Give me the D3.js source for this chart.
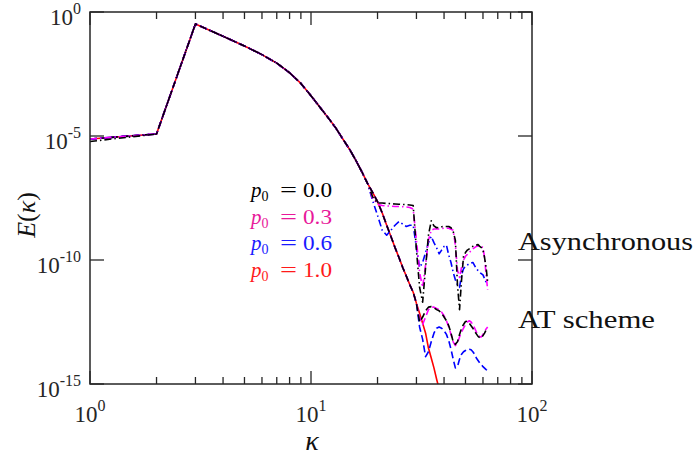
<!DOCTYPE html>
<html>
<head>
<meta charset="utf-8">
<script src="https://cdn.jsdelivr.net/npm/d3@7"></script>
<style>
  html, body { margin: 0; padding: 0; background: #fff; }
  svg { display: block; }
</style>
</head>
<body>
<svg id="chart" width="697" height="460"></svg>
<script>
// ---- data (log10 E at wavenumber kappa) ----
const kBase = [1, 2, 3, 4, 5, 6, 7, 8, 9, 10, 11, 12, 13, 14, 15, 16, 17, 18];
const eBase = [-5.12, -4.92, -0.48, -0.98, -1.37, -1.72, -2.06, -2.45, -2.88, -3.38, -3.85, -4.28, -4.7, -5.15, -5.56, -6.0, -6.45, -6.9];

// p0 = 1.0 (synchronous, same for both schemes)
const kRed = [19, 20, 21, 22, 23, 24, 25, 26, 27, 28, 29, 30, 31, 32, 33, 34, 35, 36, 37, 38];
const eRed = [-7.27, -7.65, -8.1, -8.6, -9.05, -9.5, -9.9, -10.3, -10.65, -11.0, -11.3, -11.75, -12.15, -12.55, -12.95, -13.55, -13.95, -14.35, -14.8, -15.2];

// Asynchronous scheme tails (from kappa = 19)
const kAsyncBlack = [19, 20, 21, 22, 23, 24, 25, 26, 27, 28, 29, 30, 31, 32, 33, 34, 35, 36, 37, 38, 39, 40, 41, 42, 43, 44, 45, 46, 47, 48, 49, 50, 51, 52, 53, 54, 55, 56, 57, 58, 59, 60, 61, 62, 63];
const eAsyncBlack = [-7.45, -7.7, -7.7, -7.72, -7.73, -7.74, -7.75, -7.76, -7.77, -7.78, -7.8, -9.6, -11.1, -11.7, -10.3, -9.0, -8.42, -8.62, -8.7, -8.68, -8.66, -8.65, -8.65, -8.65, -8.7, -8.85, -9.2, -11.0, -12.0, -10.8, -9.85, -9.7, -9.6, -9.55, -9.5, -9.45, -9.42, -9.4, -9.38, -9.45, -9.5, -9.6, -9.9, -10.3, -10.9];

const kAsyncMag = [19, 20, 21, 22, 24, 26, 28, 29, 30, 31, 32, 33, 34, 35, 36, 38, 40, 42, 44, 45, 46, 47, 48, 49, 50, 52, 54, 56, 58, 60, 61, 62, 63];
const eAsyncMag = [-7.5, -7.75, -7.8, -7.82, -7.84, -7.85, -7.88, -7.95, -9.2, -10.5, -11.1, -10.2, -9.2, -8.8, -8.75, -8.75, -8.72, -8.72, -8.8, -9.4, -10.4, -10.7, -10.3, -10.0, -9.85, -9.7, -9.55, -9.45, -9.42, -9.5, -9.9, -10.6, -11.2];

const kAsyncBlue = [19, 20, 21, 22, 23, 24, 25, 26, 27, 28, 29, 30, 31, 32, 33, 34, 35, 36, 37, 38, 39, 40, 41, 42, 43, 44, 45, 46, 47, 48, 49, 50, 52, 54, 56, 58, 60, 62, 63];
const eAsyncBlue = [-7.6, -8.2, -8.8, -9.0, -8.8, -8.6, -8.45, -8.55, -8.65, -8.6, -8.6, -9.5, -10.3, -10.1, -9.7, -9.3, -9.05, -9.3, -9.5, -9.75, -9.6, -9.45, -9.4, -9.8, -10.1, -10.5, -10.8, -11.0, -11.1, -10.6, -10.35, -10.25, -10.15, -10.1, -10.35, -10.5, -10.6, -10.9, -11.0];

// AT scheme tails (follow p0 = 1.0 up to kappa = 30, listed from 31)
const kAT = [31, 32, 33, 34, 35, 36, 37, 38, 39, 40, 41, 42, 43, 44, 45, 46, 47, 48, 49, 50, 51, 52, 53, 54, 55, 56, 57, 58, 59, 60, 61, 62, 63];
const eATBlack = [-12.5, -12.3, -12.05, -11.9, -11.88, -11.92, -12.0, -12.05, -12.15, -12.3, -12.45, -12.65, -12.95, -13.3, -13.4, -13.3, -13.0, -12.75, -12.6, -12.48, -12.47, -12.55, -12.65, -12.75, -12.88, -12.98, -13.08, -13.13, -13.15, -13.05, -12.95, -12.82, -12.75];
const eATMag = [-12.3, -12.6, -12.3, -12.0, -11.9, -11.9, -11.95, -12.0, -12.1, -12.25, -12.45, -12.7, -13.0, -13.3, -13.45, -13.35, -13.1, -12.9, -12.75, -12.6, -12.5, -12.45, -12.5, -12.6, -12.75, -12.9, -13.0, -13.1, -13.1, -13.0, -12.9, -12.78, -12.7];
const eATBlue = [-12.7, -13.2, -13.9, -13.7, -13.3, -12.95, -12.75, -12.7, -12.75, -12.85, -13.0, -13.25, -13.6, -14.0, -14.35, -14.3, -14.0, -13.8, -13.7, -13.65, -13.6, -13.6, -13.62, -13.7, -13.8, -13.95, -14.05, -14.15, -14.22, -14.3, -14.36, -14.42, -14.45];

const legendLabels = ["0.0", "0.3", "0.6", "1.0"];
const legendColors = ["#000000", "#e8189a", "#1a1aff", "#ff1a1a"];
const xTickExps = [0, 1, 2];
const yTickExps = [0, -5, -10, -15];
const schemeLabels = ["Asynchronous", "AT scheme"];

// ---- build series ----
function zip(ks, es) { return ks.map((k, i) => ({ k: k, e: es[i] })); }
const base = zip(kBase, eBase);
const redTail = zip(kRed, eRed);
const redUpTo30 = redTail.filter(d => d.k <= 30);

const series = [
  { pts: base.concat(redTail), color: "#ff0000", dash: null },
  { pts: base.concat(redUpTo30, zip(kAT, eATBlue)), color: "#0000ff", dash: "7,3.5" },
  { pts: base.concat(redUpTo30, zip(kAT, eATMag)), color: "#ff00ff", dash: "7,3.5" },
  { pts: base.concat(redUpTo30, zip(kAT, eATBlack)), color: "#000000", dash: "7,3.5" },
  { pts: base.concat(zip(kAsyncBlue, eAsyncBlue)), color: "#0000ff", dash: "7,3,1.5,3" },
  { pts: base.concat(zip(kAsyncMag, eAsyncMag)), color: "#ff00ff", dash: "7,3,1.5,3" },
  { pts: [{k: 1, e: -5.22}].concat(base.slice(1), zip(kAsyncBlack, eAsyncBlack)), color: "#000000", dash: "7,3,1.5,3" }
];

// ---- layout ----
const svg = d3.select("#chart");
const FONT = "Liberation Serif";
const L = 90, R = 532, T = 12, B = 384;
const x = d3.scaleLog().domain([1, 100]).range([L, R]);
const y = d3.scaleLog().domain([1e-15, 1]).range([B, T]);

svg.append("defs").append("clipPath").attr("id", "clip")
  .append("rect").attr("x", L).attr("y", T).attr("width", R - L).attr("height", B - T);

const line = d3.line().x(d => x(d.k)).y(d => y(Math.pow(10, d.e)));

const g = svg.append("g").attr("clip-path", "url(#clip)");
series.forEach(s => {
  g.append("path").datum(s.pts)
    .attr("d", line)
    .attr("fill", "none")
    .attr("stroke", s.color)
    .attr("stroke-width", 1.6)
    .attr("stroke-linejoin", "round")
    .attr("stroke-dasharray", s.dash);
});

// ---- axes (box with inward ticks) ----
const axisColor = "#262626";
const xMinor = [];
for (let dec = 0; dec < 2; dec++) for (let m = 2; m <= 9; m++) xMinor.push(m * Math.pow(10, dec));
const xMajor = xTickExps.map(e => Math.pow(10, e));
const yMajor = yTickExps.map(e => Math.pow(10, e));

const ax = svg.append("g").attr("stroke", axisColor).attr("stroke-width", 1.3);
xMinor.forEach(v => {
  ax.append("line").attr("x1", x(v)).attr("x2", x(v)).attr("y1", B).attr("y2", B - 7);
  ax.append("line").attr("x1", x(v)).attr("x2", x(v)).attr("y1", T).attr("y2", T + 7);
});
xMajor.forEach(v => {
  ax.append("line").attr("x1", x(v)).attr("x2", x(v)).attr("y1", B).attr("y2", B - 13);
  ax.append("line").attr("x1", x(v)).attr("x2", x(v)).attr("y1", T).attr("y2", T + 13);
});
yMajor.forEach(v => {
  ax.append("line").attr("x1", L).attr("x2", L + 14).attr("y1", y(v)).attr("y2", y(v));
  ax.append("line").attr("x1", R).attr("x2", R - 14).attr("y1", y(v)).attr("y2", y(v));
});
svg.append("rect").attr("x", L).attr("y", T).attr("width", R - L).attr("height", B - T)
  .attr("fill", "none").attr("stroke", axisColor).attr("stroke-width", 1.5);

// tick labels
xTickExps.forEach(e => {
  const t = svg.append("text").attr("x", x(Math.pow(10, e))).attr("y", 422)
    .attr("font-family", FONT)
    .attr("text-anchor", "middle").attr("font-size", 23).attr("fill", "#262626");
  t.append("tspan").text("10");
  t.append("tspan").attr("dy", -11).attr("font-size", 16).text(String(e));
});
yTickExps.forEach(e => {
  const t = svg.append("text").attr("x", 81).attr("y", y(Math.pow(10, e)) + 12.5)
    .attr("font-family", FONT)
    .attr("text-anchor", "end").attr("font-size", 23).attr("fill", "#262626");
  t.append("tspan").text("10");
  t.append("tspan").attr("dy", -11).attr("font-size", 16).text(e === 0 ? "0" : "-" + Math.abs(e));
});

// axis titles
svg.append("text").attr("x", 312).attr("y", 450).attr("text-anchor", "middle")
  .attr("font-family", FONT)
  .attr("font-size", 28).attr("font-style", "italic").attr("fill", "#111").text("κ");
const yl = svg.append("text").attr("transform", "translate(35,215) rotate(-90)")
  .attr("font-family", FONT)
  .attr("text-anchor", "middle").attr("font-size", 26).attr("fill", "#111");
yl.append("tspan").attr("font-style", "italic").text("E");
yl.append("tspan").text("(");
yl.append("tspan").attr("font-style", "italic").text("κ");
yl.append("tspan").text(")");

// legend (text only, coloured)
legendLabels.forEach((lab, i) => {
  const by = 197 + i * 26.5;
  const c = legendColors[i];
  const t = svg.append("text").attr("x", 251).attr("y", by).attr("font-family", FONT)
    .attr("font-size", 21).attr("fill", c);
  t.append("tspan").attr("font-style", "italic").text("p");
  t.append("tspan").attr("dy", 4).attr("font-size", 14).text("0");
  svg.append("text").attr("x", 280).attr("y", by).attr("font-family", FONT)
    .attr("font-size", 21).attr("fill", c)
    .attr("textLength", 17).attr("lengthAdjust", "spacingAndGlyphs").text("=");
  svg.append("text").attr("x", 303).attr("y", by).attr("font-family", FONT)
    .attr("font-size", 21).attr("fill", c)
    .attr("textLength", 29).attr("lengthAdjust", "spacingAndGlyphs").text(lab);
});

// scheme labels
svg.append("text").attr("x", 518).attr("y", 250).attr("font-family", FONT)
  .attr("font-size", 26).attr("fill", "#111")
  .attr("textLength", 175).attr("lengthAdjust", "spacingAndGlyphs").text(schemeLabels[0]);
svg.append("text").attr("x", 518).attr("y", 328).attr("font-family", FONT)
  .attr("font-size", 26).attr("fill", "#111")
  .attr("textLength", 137).attr("lengthAdjust", "spacingAndGlyphs").text(schemeLabels[1]);
</script>
</body>
</html>
